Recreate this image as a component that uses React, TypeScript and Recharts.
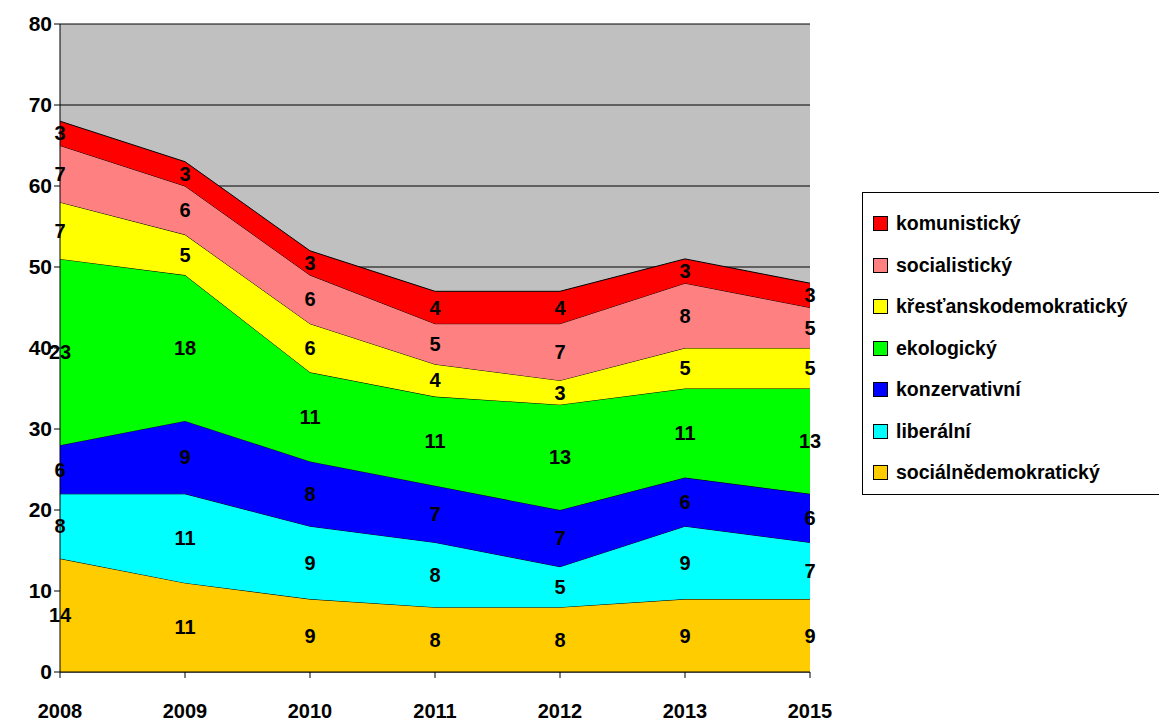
import React from 'react'
import { AreaChart, Area, XAxis, YAxis, CartesianGrid, LabelList } from 'recharts'

const years = ['2008', '2009', '2010', '2011', '2012', '2013', '2015']
const socdem = [14, 11, 9, 8, 8, 9, 9]
const liberal = [8, 11, 9, 8, 5, 9, 7]
const konz = [6, 9, 8, 7, 7, 6, 6]
const eko = [23, 18, 11, 11, 13, 11, 13]
const krest = [7, 5, 6, 4, 3, 5, 5]
const socialist = [7, 6, 6, 5, 7, 8, 5]
const komun = [3, 3, 3, 4, 4, 3, 3]
const yTicks = [0, 10, 20, 30, 40, 50, 60, 70, 80]

const series = [
  { key: 'socdem', name: 'sociálnědemokratický', color: '#ffcc00', values: socdem },
  { key: 'liberal', name: 'liberální', color: '#00ffff', values: liberal },
  { key: 'konz', name: 'konzervativní', color: '#0000ff', values: konz },
  { key: 'eko', name: 'ekologický', color: '#00ff00', values: eko },
  { key: 'krest', name: 'křesťanskodemokratický', color: '#ffff00', values: krest },
  { key: 'socialist', name: 'socialistický', color: '#ff8080', values: socialist },
  { key: 'komun', name: 'komunistický', color: '#ff0000', values: komun },
]

const data = years.map((y, i) => {
  const row: Record<string, string | number> = { year: y }
  series.forEach(s => (row[s.key] = s.values[i]))
  return row
})

const W = 1167
const H = 726
const TOP = 24
const BOTTOM = 54
const PX_PER_UNIT = (H - TOP - BOTTOM) / 80
const font = '"Liberation Sans", Arial, sans-serif'

const MidLabel = (props: any) => {
  const { x, y, value } = props
  if (value == null) return null
  return (
    <text x={x} y={y + (value * PX_PER_UNIT) / 2} textAnchor="middle" dominantBaseline="central"
      fontSize={20} fontWeight="bold" fill="#000" fontFamily={font}>
      {value}
    </text>
  )
}

export default function App() {
  return (
    <div style={{ position: 'relative', width: W, height: H, margin: -8, background: '#fff', fontFamily: font }}>
      <AreaChart width={W} height={H} data={data} margin={{ top: TOP, right: 357, bottom: 14, left: 10 }}>
        <CartesianGrid fill="#c0c0c0" vertical={false} stroke="#000" strokeOpacity={1} />
        <XAxis dataKey="year" stroke="#000" tickSize={6} height={40}
          tick={{ fontSize: 20, fontWeight: 'bold', fill: '#000', fontFamily: font }} tickMargin={26} />
        <YAxis domain={[0, 80]} ticks={yTicks} stroke="#000" width={50} tickSize={6}
          tick={{ fontSize: 21, fontWeight: 'bold', fill: '#000', fontFamily: font }} />
        {series.map(s => (
          <Area key={s.key} type="linear" dataKey={s.key} stackId="a" stroke="#000" strokeWidth={1}
            fill={s.color} fillOpacity={1} isAnimationActive={false}>
            <LabelList dataKey={s.key} content={<MidLabel />} />
          </Area>
        ))}
      </AreaChart>
      <div style={{ position: 'absolute', left: 862, top: 192, width: 302, height: 303, border: '1px solid #000',
        boxSizing: 'border-box', padding: '10px 0 0 10px' }}>
        {[...series].reverse().map(s => (
          <div key={s.key} style={{ display: 'flex', alignItems: 'center', height: 41.5, fontSize: 19.5, fontWeight: 'bold' }}>
            <span style={{ width: 13, height: 13, background: s.color, border: '1px solid #000', marginRight: 8 }} />
            {s.name}
          </div>
        ))}
      </div>
    </div>
  )
}
